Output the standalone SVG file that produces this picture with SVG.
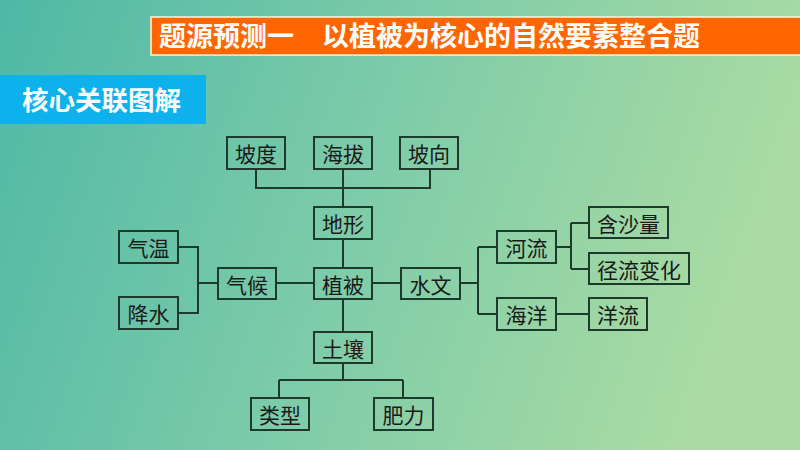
<svg xmlns="http://www.w3.org/2000/svg" width="800" height="450" viewBox="0 0 800 450">
<defs>
<linearGradient id="bg" x1="0" y1="0" x2="1" y2="0.2">
<stop offset="0" stop-color="#4fb8a5"/>
<stop offset="0.5" stop-color="#7ccba9"/>
<stop offset="1" stop-color="#a9dba3"/>
</linearGradient>
<style>
.box{fill:none;stroke:#1d3a2c;stroke-width:2}
.lbl{font-family:"Noto Sans CJK SC","Noto Sans",sans-serif;font-size:21px;fill:#1a1a1a;text-anchor:middle;dominant-baseline:central}
.conn{fill:none;stroke:#1d3a2c;stroke-width:2}
.hd{font-family:"Noto Sans CJK SC","Noto Sans",sans-serif;font-weight:bold;fill:#ffffff}
</style>
</defs>
<rect x="0" y="0" width="800" height="450" fill="url(#bg)"/>
<g id="title">
<rect x="151" y="17" width="652" height="38" fill="#ff6600" stroke="#fff6dc" stroke-width="1.5"/>
<text class="hd" x="159" y="45.500" font-size="27">题源预测一</text>
<text class="hd" x="322" y="45.500" font-size="27">以植被为核心的自然要素整合题</text>
</g>
<g id="section">
<rect x="0" y="75" width="206" height="49" fill="#0db2ec"/>
<text class="hd" x="22" y="110" font-size="26.500">核心关联图解</text>
</g>
<g id="connectors">
<path class="conn" d="M256 169V188H430V169M343 169V207"/>
<path class="conn" d="M343 239V268M343 299V332"/>
<path class="conn" d="M178 247H198V313H178M198 283H218"/>
<path class="conn" d="M276 283H314M372 283H401"/>
<path class="conn" d="M460 283H478M478 247V314M478 247H497M478 314H497"/>
<path class="conn" d="M556 247H571M571 223V269M571 223H589M571 269H589"/>
<path class="conn" d="M556 314H589"/>
<path class="conn" d="M343 363V380M279 380H403M279 380V398M403 380V398"/>
</g>
<g id="n-podu"><rect class="box" x="227" y="137" width="58" height="32"/><text class="lbl" x="256" y="153">坡度</text></g>
<g id="n-haiba"><rect class="box" x="314" y="137" width="58" height="32"/><text class="lbl" x="343" y="153">海拔</text></g>
<g id="n-poxiang"><rect class="box" x="400" y="137" width="58" height="32"/><text class="lbl" x="429" y="153">坡向</text></g>
<g id="n-dixing"><rect class="box" x="314" y="207" width="58" height="32"/><text class="lbl" x="343" y="223">地形</text></g>
<g id="n-qiwen"><rect class="box" x="119" y="231" width="59" height="32"/><text class="lbl" x="148.500" y="247">气温</text></g>
<g id="n-jiangshui"><rect class="box" x="119" y="297" width="59" height="32"/><text class="lbl" x="148.500" y="313">降水</text></g>
<g id="n-qihou"><rect class="box" x="218" y="268" width="58" height="31"/><text class="lbl" x="247" y="283.500">气候</text></g>
<g id="n-zhibei"><rect class="box" x="314" y="268" width="58" height="31"/><text class="lbl" x="343" y="283.500">植被</text></g>
<g id="n-shuiwen"><rect class="box" x="401" y="268" width="59" height="31"/><text class="lbl" x="430.500" y="283.500">水文</text></g>
<g id="n-heliu"><rect class="box" x="497" y="231" width="59" height="32"/><text class="lbl" x="526.500" y="247">河流</text></g>
<g id="n-haiyang"><rect class="box" x="497" y="298" width="59" height="32"/><text class="lbl" x="526.500" y="314">海洋</text></g>
<g id="n-hanshaliang"><rect class="box" x="589" y="207" width="79" height="31"/><text class="lbl" x="628.500" y="222.500">含沙量</text></g>
<g id="n-jingliu"><rect class="box" x="589" y="253" width="100" height="31"/><text class="lbl" x="639" y="268.500">径流变化</text></g>
<g id="n-yangliu"><rect class="box" x="589" y="298" width="58" height="32"/><text class="lbl" x="618" y="314">洋流</text></g>
<g id="n-turang"><rect class="box" x="314" y="332" width="58" height="31"/><text class="lbl" x="343" y="347.500">土壤</text></g>
<g id="n-leixing"><rect class="box" x="251" y="398" width="58" height="32"/><text class="lbl" x="280" y="414">类型</text></g>
<g id="n-feili"><rect class="box" x="374" y="398" width="59" height="32"/><text class="lbl" x="403.500" y="414">肥力</text></g>
</svg>
